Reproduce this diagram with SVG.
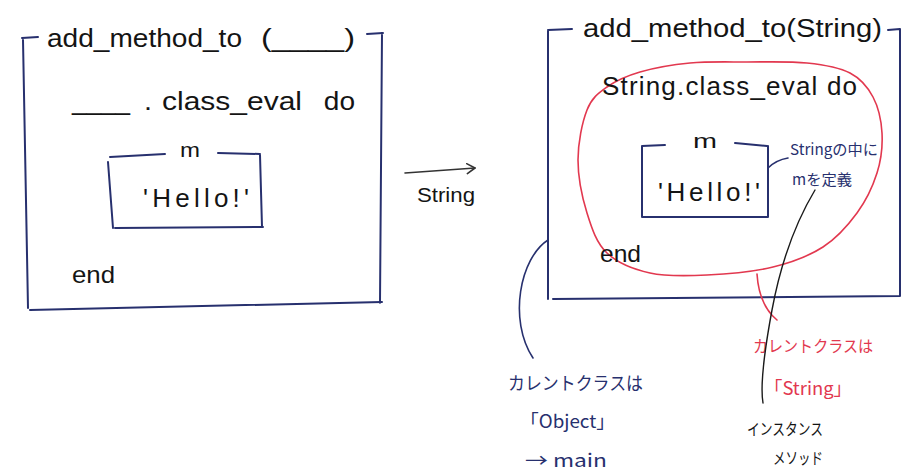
<svg xmlns="http://www.w3.org/2000/svg" width="914" height="474" viewBox="0 0 914 474">
<style>
.bg{fill:#ffffff}
.frame{fill:none;stroke:#27306e;stroke-width:2;stroke-linecap:round;stroke-linejoin:round}
.scope{fill:none;stroke:#e2384f;stroke-width:1.6}
.navyline{fill:none;stroke:#27306e;stroke-width:1.6;stroke-linecap:round}
.redline{fill:none;stroke:#e2384f;stroke-width:1.6;stroke-linecap:round}
.blackline{fill:none;stroke:#1a1a1a;stroke-width:1.4;stroke-linecap:round}
.arrowline{fill:none;stroke:#333333;stroke-width:1.6;stroke-linecap:round}
.code{font-family:"Liberation Sans","DejaVu Sans",sans-serif;fill:#141414}
.big{font-size:26px}
.mid{font-size:24px}
.small{font-size:20px}
.jp{font-family:"Noto Sans CJK JP","Noto Sans",sans-serif}
.navy{fill:#27306e}
.red{fill:#e2384f}
.black{fill:#141414}
</style>
<defs>
<marker id="chev" viewBox="0 0 10 12" refX="9" refY="6" markerWidth="10" markerHeight="12" markerUnits="userSpaceOnUse" orient="auto">
<path d="M1,1 L9,6 L1,11" fill="none" stroke="#333333" stroke-width="1.6" stroke-linecap="round" stroke-linejoin="round"/>
</marker>
</defs>
<rect class="bg" x="0" y="0" width="914" height="474"/>

<g id="left-method">
<path class="frame" d="M22,38 L38,37 M23,40 L28,308 M30,310 L382,302 M367,34 L383,33 M382,33 L380,303"/>
<text class="code big" y="47"><tspan x="47" textLength="195" lengthAdjust="spacingAndGlyphs">add_method_to</tspan><tspan x="252" textLength="103" lengthAdjust="spacingAndGlyphs"> (____)</tspan></text>
</g>

<g id="left-class-eval">
<text class="code big" y="110"><tspan x="72" textLength="58" lengthAdjust="spacingAndGlyphs">____</tspan><tspan x="144" textLength="8" lengthAdjust="spacingAndGlyphs">.</tspan><tspan x="162" textLength="140" lengthAdjust="spacingAndGlyphs">class_eval</tspan><tspan x="316" textLength="39" lengthAdjust="spacingAndGlyphs"> do</tspan></text>
<text class="code mid" x="72" y="283" textLength="43" lengthAdjust="spacingAndGlyphs">end</text>
</g>

<g id="left-m">
<path class="frame" d="M110,157 L165,154 M218,153 L260,154 M260,155 L262,227 M115,228 L263,227 M108,162 L113,228"/>
<text class="code small" x="180" y="157" textLength="20" lengthAdjust="spacingAndGlyphs">m</text>
<text class="code big" x="143" y="207" textLength="106" lengthAdjust="spacing">'Hello!'</text>
</g>

<g id="arrow-label">
<text class="code small" x="417" y="202" textLength="58" lengthAdjust="spacingAndGlyphs">String</text>
</g>

<g id="right-method">
<path class="frame" d="M548,30 L572,29 M548,31 L548,299 M553,299 L900,296 M888,30 L900,29 M900,29 L900,296"/>
<text class="code big" x="583" y="37" textLength="299" lengthAdjust="spacingAndGlyphs">add_method_to(String)</text>
</g>

<g id="right-scope">
<path class="scope" d="M747,62 C766.5,62 789.8,61.2 807,63 S839,67.3 850,73 S867.7,87 873,97 S881.3,120.3 882,133 S881.2,159.7 877,173 S866,200.7 857,213 S837,238 823,247 S792.3,262.3 773,267 S727.5,274 707,275 S666.7,276.7 650,273 S617.5,263 607,253 S591.8,228.5 587,213 S578,177.2 578,160 S582.2,122.2 587,110 S598.2,93.3 607,87 S626.2,76 640,72 S672.2,64.7 690,63 S727.5,62 747,62 Z"/>
<text class="code big" x="602" y="95" textLength="255" lengthAdjust="spacing">String.class_eval do</text>
<text class="code mid" x="600" y="262" textLength="41" lengthAdjust="spacingAndGlyphs">end</text>
</g>

<g id="right-m">
<path class="frame" d="M642,146 L665,145 M735,143 L767,146 M768,146 L768,217 M642,217 L768,217 M642,146 L642,217"/>
<text class="code small" x="693" y="148" textLength="24" lengthAdjust="spacingAndGlyphs">m</text>
<text class="code big" x="658" y="201" textLength="102" lengthAdjust="spacing">'Hello!'</text>
</g>

<g id="note-define">
<text class="jp navy" font-size="15" x="790" y="155" textLength="88" lengthAdjust="spacingAndGlyphs">Stringの中に</text>
<text class="jp navy" font-size="15" x="792" y="185" textLength="60" lengthAdjust="spacingAndGlyphs">mを定義</text>
</g>

<g id="note-object">
<text class="jp navy" font-size="18" x="508" y="390" textLength="135" lengthAdjust="spacingAndGlyphs">カレントクラスは</text>
<text class="jp navy" font-size="18" x="520" y="428" textLength="95" lengthAdjust="spacingAndGlyphs">「Object」</text>
<text class="jp navy" font-size="18" x="525" y="467" textLength="82" lengthAdjust="spacingAndGlyphs">→ main</text>
</g>

<g id="note-string">
<text class="jp red" font-size="16" x="753" y="352" textLength="120" lengthAdjust="spacingAndGlyphs">カレントクラスは</text>
<text class="jp red" font-size="18" x="764" y="395" textLength="88" lengthAdjust="spacingAndGlyphs">「String」</text>
</g>

<g id="note-instance">
<text class="jp black" font-size="16" x="747" y="435" textLength="76" lengthAdjust="spacingAndGlyphs">インスタンス</text>
<text class="jp black" font-size="16" x="773" y="464" textLength="50" lengthAdjust="spacingAndGlyphs">メソッド</text>
</g>

<g id="connectors">
<path class="arrowline" d="M405,173 L475,168" marker-end="url(#chev)"/>
<path class="navyline" d="M768,168 Q776,160 788,158"/>
<path class="navyline" d="M548,240 C520,258 508,320 533,358"/>
<path class="redline" d="M757,274 Q759,305 777,320"/>
<path class="blackline" d="M815,190 Q785,240 772,310 T763,403"/>
</g>
</svg>
